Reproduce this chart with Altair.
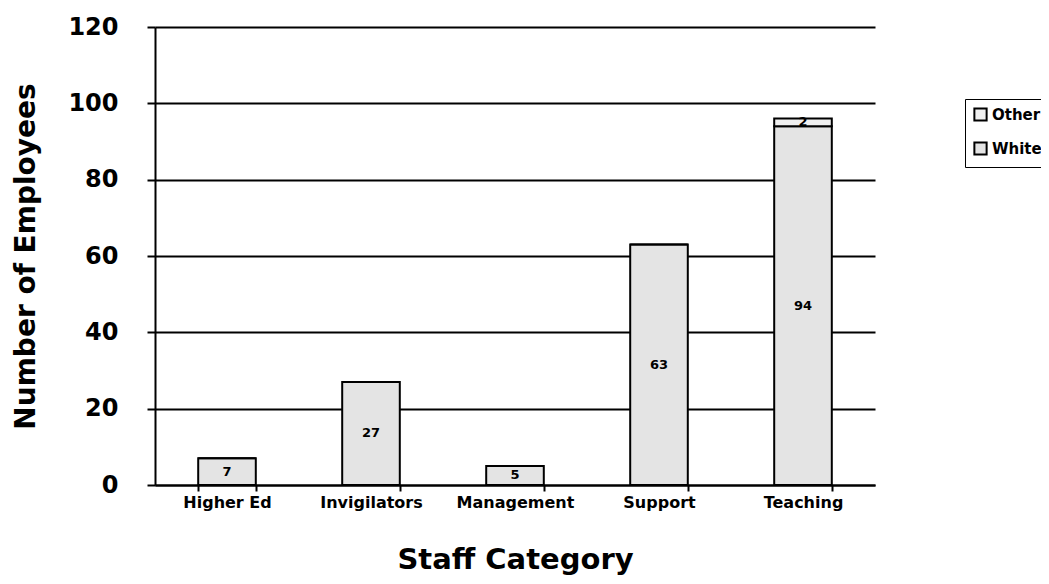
import altair as alt
import pandas as pd

categories = ["Higher Ed", "Invigilators", "Management", "Support", "Teaching"]
white = [7, 27, 5, 63, 94]
other = [0, 0, 0, 0, 2]
y_ticks = [0, 20, 40, 60, 80, 100, 120]

rows = []
for c, w, o in zip(categories, white, other):
    rows.append({"cat": c, "group": "White", "value": w, "order": 0, "lo": 0, "hi": w})
    rows.append({"cat": c, "group": "Other", "value": o, "order": 1, "lo": w, "hi": w + o})
df = pd.DataFrame(rows)
df["mid"] = (df["lo"] + df["hi"]) / 2
lab = df[df["value"] > 0]

FONT = "DejaVu Sans"

x = alt.X("cat:N", sort=categories, title="Staff Category",
          scale=alt.Scale(paddingInner=0.6, paddingOuter=0.3),
          axis=alt.Axis(labelAngle=0, labelFont=FONT, labelFontWeight="bold", labelFontSize=16,
                        labelColor="black", tickBand="extent", tickColor="black", tickWidth=2,
                        tickSize=6, domainColor="black", domainWidth=2, labelPadding=3, grid=False,
                        titleFont=FONT, titleFontSize=29, titleFontWeight="bold", titleColor="black",
                        titleY=83, titleBaseline="alphabetic"))

bars = alt.Chart(df).mark_bar(stroke="black", strokeWidth=2).encode(
    x=x,
    y=alt.Y("lo:Q", title="Number of Employees",
            scale=alt.Scale(domain=[0, 120], nice=False),
            axis=alt.Axis(values=y_ticks, grid=True, gridColor="black", gridWidth=2,
                          gridOpacity=1, domainColor="black", domainWidth=2,
                          tickColor="black", tickWidth=2, tickSize=8,
                          labelFont=FONT, labelFontSize=24, labelFontWeight="bold",
                          labelColor="black", labelPadding=29,
                          titleFont=FONT, titleFontSize=28, titleFontWeight="bold",
                          titleColor="black", titleX=-115)),
    y2="hi:Q",
    fill=alt.Fill("group:N", scale=alt.Scale(domain=["Other", "White"], range=["#f0f0f0", "#e4e4e4"]),
                  legend=alt.Legend(title=None, orient="none", legendX=810, legendY=72,
                                    strokeColor="black", padding=8, symbolType="square",
                                    symbolSize=150, symbolStrokeColor="black", symbolStrokeWidth=2,
                                    labelFont=FONT, labelFontSize=15, labelFontWeight="bold",
                                    labelColor="black", rowPadding=13, labelOffset=4)),
    order=alt.Order("order:Q"),
)

labels = alt.Chart(lab).mark_text(font=FONT, fontSize=13, fontWeight="bold", color="black").encode(
    x=alt.X("cat:N", sort=categories),
    y=alt.Y("mid:Q"),
    text=alt.Text("value:Q"),
)

chart = (bars + labels).properties(
    width=720, height=458,
    background="white",
    autosize=alt.AutoSizeParams(type="none"),
    padding={"left": 147, "top": 19, "right": 166, "bottom": 91},
).configure_view(strokeWidth=0)

chart.save("out.html", embed_options={"renderer": "svg", "actions": False})
